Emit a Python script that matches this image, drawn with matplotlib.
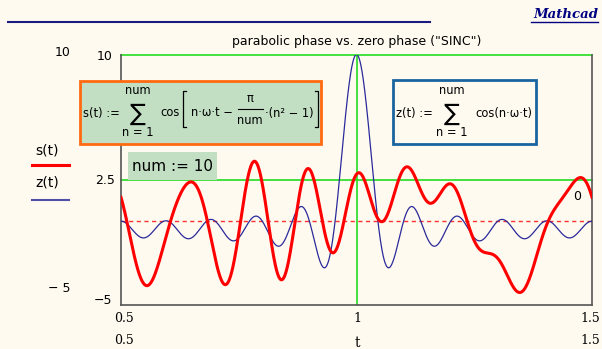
import numpy as np
import matplotlib
matplotlib.use("Agg")
import matplotlib.pyplot as plt
from matplotlib.patches import Rectangle
from matplotlib.lines import Line2D

# ---- data (definitions shown in the chart) ----
num = 10
omega = 2 * np.pi
n_terms = np.arange(1, num + 1)
t_values = np.linspace(0.5, 1.5, 1201)
s_values = np.cos(np.outer(t_values, n_terms) * omega - np.pi / num * (n_terms ** 2 - 1)).sum(axis=1)
z_values = np.cos(np.outer(t_values, n_terms) * omega).sum(axis=1)
x_limits = [0.5, 1.5]
y_limits = [-5, 10]
x_tick_labels = ["0.5", "1", "1.5"]
y_tick_labels = ["\u22125", "2.5", "10"]
h_markers = [2.5, 10]
v_marker = 1.0
zero_level = 0

plt.rcParams['font.family'] = ['DejaVu Sans']

W, H = 602, 349
bg = '#fffaf0'
fig = plt.figure(figsize=(W / 100, H / 100), dpi=100, facecolor=bg)

def fx(x):
    return x / W

def fy(y):
    return 1 - y / H

ax = fig.add_axes([fx(121), fy(304.5), fx(592) - fx(121), fy(54.5) - fy(304.5)])
ax.set_facecolor(bg)
ax.set_xlim(*x_limits)
ax.set_ylim(*y_limits)

green = '#22dd22'
for hm in h_markers:
    ax.axhline(hm, color=green, lw=1.2, zorder=2, clip_on=False)
ax.axvline(v_marker, color=green, lw=1.2, zorder=2)
ax.axhline(zero_level, color='#ff3030', lw=1.0, ls=(0, (3, 2.5)), zorder=2)

ax.plot(t_values, z_values, color='#2a2a9a', lw=0.9, zorder=3)
ax.plot(t_values, s_values, color='#ff0000', lw=2.2, zorder=4)

for side in ['left', 'bottom', 'right']:
    ax.spines[side].set_color('#555555')
    ax.spines[side].set_linewidth(1.2)
ax.spines['top'].set_visible(False)
ax.set_xticks([])
ax.set_yticks([])

fs = 9
# inner axis labels
fig.text(fx(124), fy(318), x_tick_labels[0], ha='center', va='center', fontsize=fs, family='DejaVu Serif')
fig.text(fx(357), fy(318), x_tick_labels[1], ha='center', va='center', fontsize=fs, family='DejaVu Serif')
fig.text(fx(590), fy(318), x_tick_labels[2], ha='center', va='center', fontsize=fs, family='DejaVu Serif')
fig.text(fx(112), fy(300), y_tick_labels[0], ha='right', va='center', fontsize=fs)
fig.text(fx(115), fy(180), y_tick_labels[1], ha='right', va='center', fontsize=fs)
fig.text(fx(113), fy(57), y_tick_labels[2], ha='right', va='center', fontsize=fs)
# outer limit labels
fig.text(fx(124), fy(341), x_tick_labels[0], ha='center', va='center', fontsize=fs, family='DejaVu Serif')
fig.text(fx(590), fy(341), x_tick_labels[2], ha='center', va='center', fontsize=fs, family='DejaVu Serif')
fig.text(fx(357), fy(343), "t", ha='center', va='center', fontsize=fs + 1, family='DejaVu Serif')
fig.text(fx(71), fy(52), "10", ha='right', va='center', fontsize=fs)
fig.text(fx(71), fy(288), "\u2212 5", ha='right', va='center', fontsize=fs)
fig.text(fx(577), fy(196), "0", ha='center', va='center', fontsize=fs)

# title
fig.text(fx(357), fy(42), 'parabolic phase vs. zero phase ("SINC")', ha='center', va='center', fontsize=fs)

# header
fig.add_artist(Line2D([fx(8), fx(430)], [fy(22), fy(22)], color='#1a1a80', lw=1.5))
fig.text(fx(598), fy(15), "Mathcad", ha='right', va='center', fontsize=9.5, color='#000080',
         family='DejaVu Serif', weight='bold', style='italic')
fig.add_artist(Line2D([fx(531), fx(598)], [fy(22), fy(22)], color='#000080', lw=1))

# legend
fig.text(fx(47), fy(150), "s(t)", ha='center', va='center', fontsize=fs + 1)
fig.add_artist(Line2D([fx(32), fx(69)], [fy(165), fy(165)], color='#ff0000', lw=2.2))
fig.text(fx(47), fy(183), "z(t)", ha='center', va='center', fontsize=fs + 1)
fig.add_artist(Line2D([fx(32), fx(69)], [fy(200), fy(200)], color='#5050a8', lw=1.5))

# formula boxes
ffs = 8.3
def T(x, y, s, size=ffs, ha='center', **kw):
    fig.text(fx(x), fy(y), s, ha=ha, va='center', fontsize=size, zorder=11, **kw)

def L(xs, ys, lw=0.9):
    fig.add_artist(Line2D([fx(v) for v in xs], [fy(v) for v in ys], color='black', lw=lw, zorder=11))

fig.add_artist(Rectangle((fx(80), fy(144)), fx(321) - fx(80), fy(81) - fy(144), facecolor='#c2dfc4',
                         edgecolor='#ff6a10', lw=2, zorder=10))
T(83, 113, "s(t) :=", ha='left')
T(138, 91, "num")
T(138, 114, "\u2211", size=17)
T(138, 133, "n = 1")
T(170, 113, "cos")
L([186, 183, 183, 186], [91, 91, 127, 127])
T(191, 113, "n\u00b7\u03c9\u00b7t \u2212", ha='left')
T(250, 99, "\u03c0")
L([238, 263], [109, 109], lw=0.8)
T(250, 120, "num")
T(265, 113, "\u00b7(n\u00b2 \u2212 1)", ha='left')
L([315, 318, 318, 315], [91, 91, 127, 127])

fig.add_artist(Rectangle((fx(393), fy(144)), fx(536) - fx(393), fy(80) - fy(144), facecolor=bg,
                         edgecolor='#1a64a0', lw=2, zorder=10))
T(396, 113, "z(t) :=", ha='left')
T(452, 91, "num")
T(452, 114, "\u2211", size=17)
T(452, 133, "n = 1")
T(475, 113, "cos(n\u00b7\u03c9\u00b7t)", ha='left')

fig.add_artist(Rectangle((fx(128), fy(180)), fx(217) - fx(128), fy(152) - fy(180), facecolor='#c2dfc4',
                         edgecolor='none', zorder=10))
T(172, 167, "num := 10", size=11)

fig.savefig("out.png", dpi=100, facecolor=bg)
